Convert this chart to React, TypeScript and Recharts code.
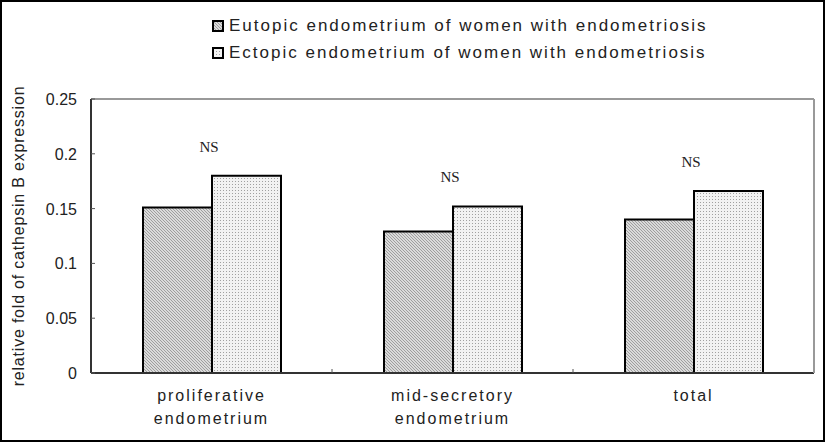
import { BarChart, Bar, XAxis, YAxis, ReferenceLine, LabelList } from "recharts";

const categories = [
  ["proliferative", "endometrium"],
  ["mid-secretory", "endometrium"],
  ["total"],
];
const eutopic = [0.151, 0.129, 0.14];
const ectopic = [0.18, 0.152, 0.166];
const yTicks = [0, 0.05, 0.1, 0.15, 0.2, 0.25];
const seriesNames = [
  "Eutopic endometrium of women with endometriosis",
  "Ectopic endometrium of women with endometriosis",
];
const sigLabel = "NS";

const data = categories.map((c, i) => ({
  name: c.join(" "),
  lines: c,
  eutopic: eutopic[i],
  ectopic: ectopic[i],
}));

const W = 827;
const H = 443;
const M = { top: 99, right: 12, bottom: 10, left: 31 };
const Y_W = 60;
const PLOT_W = W - M.left - M.right - Y_W - 1;
const BAND = PLOT_W / categories.length;

const sans = "'Liberation Sans', Arial, sans-serif";

function YTick(props: any) {
  const { x, y, payload } = props;
  return (
    <g>
      <line x1={x + 14} x2={x + 18} y1={y} y2={y} stroke="#555" />
      <text
        x={x}
        y={y}
        dy={6}
        textAnchor="end"
        fontFamily={sans}
        fontSize={16}
        fill="#222"
      >
        {payload.value === 0 ? "0" : String(payload.value)}
      </text>
    </g>
  );
}

function XTick(props: any) {
  const { x, y, payload, index } = props;
  const lines = categories[index] || [payload.value];
  return (
    <g>
      {index < categories.length - 1 && (
        <line
          x1={x + BAND / 2}
          x2={x + BAND / 2}
          y1={y - 10}
          y2={y - 14}
          stroke="#555"
        />
      )}
      {lines.map((l, i) => (
        <text
          key={i}
          x={x}
          y={y + 18 + i * 23}
          textAnchor="middle"
          fontFamily={sans}
          fontSize={16}
          letterSpacing={2}
          fill="#222"
        >
          {l}
        </text>
      ))}
    </g>
  );
}

function NsLabel(props: any) {
  const { x, y } = props;
  return (
    <text
      x={x - 3}
      y={y - 24}
      textAnchor="middle"
      fontFamily="'Liberation Serif', 'DejaVu Serif', serif"
      fontSize={15}
      fill="#222"
    >
      {sigLabel}
    </text>
  );
}

function Swatch({ fill }: { fill: string }) {
  return (
    <svg width={12} height={12} style={{ marginRight: 5, flex: "none" }}>
      <rect x={1} y={1} width={10} height={10} fill={fill} stroke="#000" strokeWidth={2} />
    </svg>
  );
}

function Patterns() {
  return (
    <defs>
      <pattern id="hatch" width={3} height={3} patternUnits="userSpaceOnUse">
        <rect width={3} height={3} fill="#dadada" />
        <path d="M0,0 L3,3 M-1,2 L1,4 M2,-1 L4,1" stroke="#8f8f8f" strokeWidth={0.8} />
      </pattern>
      <pattern id="dots" width={3} height={3} patternUnits="userSpaceOnUse">
        <rect width={3} height={3} fill="#f2f2f2" />
        <rect x={1} y={1} width={1} height={1} fill="#a0a0a0" />
      </pattern>
    </defs>
  );
}

export default function App() {
  return (
    <div
      style={{
        position: "fixed",
        left: 0,
        top: 0,
        width: W,
        height: H,
        background: "#fff",
      }}
    >
      <svg width={0} height={0} style={{ position: "absolute" }}>
        <Patterns />
      </svg>
      <div
        style={{
          position: "absolute",
          left: 212,
          top: 12,
          fontFamily: sans,
          fontSize: 17,
          letterSpacing: 2,
          color: "#222",
          lineHeight: "27px",
        }}
      >
        {seriesNames.map((n, i) => (
          <div key={n} style={{ display: "flex", alignItems: "center", whiteSpace: "nowrap" }}>
            <Swatch fill={i === 0 ? "url(#hatch)" : "url(#dots)"} />
            {n}
          </div>
        ))}
      </div>
      <div style={{ position: "absolute", left: 0, top: 0 }}>
        <BarChart width={W} height={H} data={data} margin={M} barGap={0} barSize={69}>
          <Patterns />
          <XAxis
            dataKey="name"
            interval={0}
            height={60}
            tickSize={0}
            tickMargin={10}
            tick={<XTick />}
            axisLine={{ stroke: "#333", strokeWidth: 2 }}
            tickLine={false}
          />
          <YAxis
            yAxisId="left"
            width={Y_W}
            domain={[0, 0.25]}
            ticks={yTicks}
            tickSize={0}
            tickMargin={14}
            tick={<YTick />}
            axisLine={{ stroke: "#333", strokeWidth: 2 }}
            tickLine={false}
            label={{
              value: "relative fold of cathepsin B expression",
              angle: -90,
              position: "insideLeft",
              offset: -13,
              style: {
                textAnchor: "middle",
                fontFamily: sans,
                fontSize: 16,
                letterSpacing: 0.8,
                fill: "#222",
              },
            }}
          />
          <YAxis
            yAxisId="right"
            orientation="right"
            width={1}
            domain={[0, 0.25]}
            tick={false}
            tickLine={false}
            axisLine={{ stroke: "#999", strokeWidth: 2 }}
          />
          <ReferenceLine yAxisId="left" y={0.25} stroke="#999" strokeWidth={2} />
          <Bar
            yAxisId="left"
            dataKey="eutopic"
            fill="url(#hatch)"
            stroke="#000"
            strokeWidth={2}
            isAnimationActive={false}
          />
          <Bar
            yAxisId="left"
            dataKey="ectopic"
            fill="url(#dots)"
            stroke="#000"
            strokeWidth={2}
            isAnimationActive={false}
          >
            <LabelList dataKey="ectopic" content={<NsLabel />} />
          </Bar>
        </BarChart>
      </div>
      <div
        style={{
          position: "absolute",
          left: 0,
          top: 0,
          width: W - 2,
          height: H - 1,
          border: "2px solid #000",
          boxSizing: "border-box",
          pointerEvents: "none",
        }}
      />
    </div>
  );
}
